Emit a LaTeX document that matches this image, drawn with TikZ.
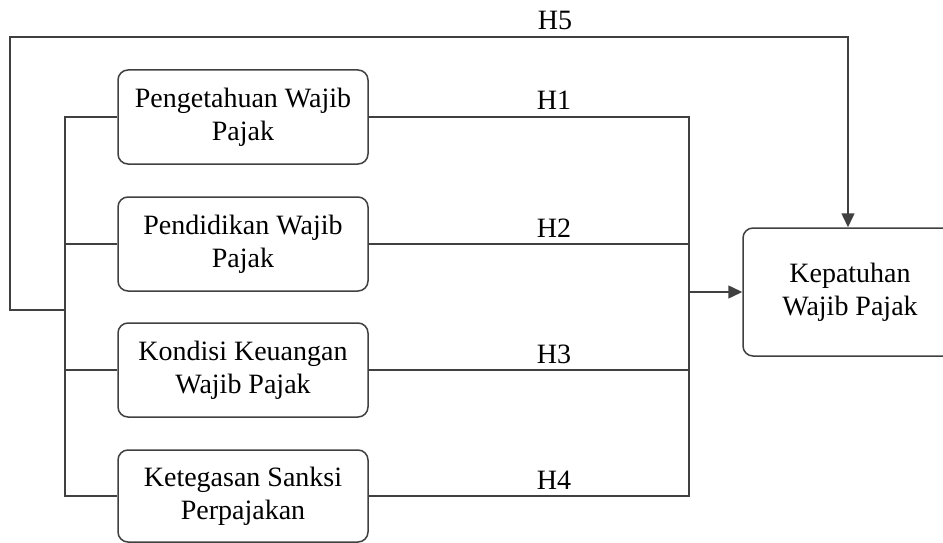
\documentclass[tikz,border=0pt]{standalone}
\usepackage{fontspec}
\setmainfont{Liberation Serif}
\usetikzlibrary{arrows.meta}
\definecolor{linegray}{HTML}{404040}
\tikzset{
  varbox/.style={draw=linegray, line width=1.5pt, rounded corners=10pt, align=center,
    font=\fontsize{28}{33}\selectfont, inner sep=0pt},
  conn/.style={draw=linegray, line width=1.5pt},
  arr/.style={conn, -{Triangle[length=14pt,width=13pt]}},
  hlab/.style={anchor=base, font=\fontsize{28}{33}\selectfont, inner sep=0pt}
}
\begin{document}
\begin{tikzpicture}[x=1pt,y=-1pt]
\useasboundingbox (0,0) rectangle (943,543);
\clip (0,0) rectangle (943,543);
\node[varbox, minimum width=250pt, minimum height=94pt] (b1) at (243,117) {Pengetahuan Wajib\\Pajak};
\node[varbox, minimum width=250pt, minimum height=94pt] (b2) at (243,244) {Pendidikan Wajib\\Pajak};
\node[varbox, minimum width=250pt, minimum height=94pt] (b3) at (243,370) {Kondisi Keuangan\\Wajib Pajak};
\node[varbox, minimum width=250pt, minimum height=92pt] (b4) at (243,496) {Ketegasan Sanksi\\Perpajakan};
\node[varbox, minimum width=214pt, minimum height=128pt] (kp) at (850,292) {Kepatuhan\\Wajib Pajak};

\coordinate (lt) at (65,117);
\coordinate (lb) at (65,496);
\coordinate (rt) at (689,117);
\coordinate (rb) at (689,496);
\coordinate (h5s) at (65,310);
\coordinate (h5a) at (10,310);
\coordinate (h5b) at (10,37);

\draw[conn] (b1.west) -- (lt) -- (lb) -- (b4.west);
\draw[conn] (b2.west) -- (b2.west -| lt);
\draw[conn] (b3.west) -- (b3.west -| lt);
\draw[conn] (b1.east) -- (rt) -- (rb) -- (b4.east);
\draw[conn] (b2.east) -- (b2.east -| rt);
\draw[conn] (b3.east) -- (b3.east -| rt);
\draw[arr] (kp.west -| rt) -- (kp.west);
\draw[arr] (h5s) -- (h5a) -- (h5b) -| ([xshift=-2pt]kp.north);

\node[hlab] (l5) at (555,30) {H5};
\node[hlab] (l1) at (554,110) {H1};
\node[hlab] (l2) at (554,237) {H2};
\node[hlab] (l3) at (554,363) {H3};
\node[hlab] (l4) at (554,489) {H4};
\end{tikzpicture}
\end{document}
